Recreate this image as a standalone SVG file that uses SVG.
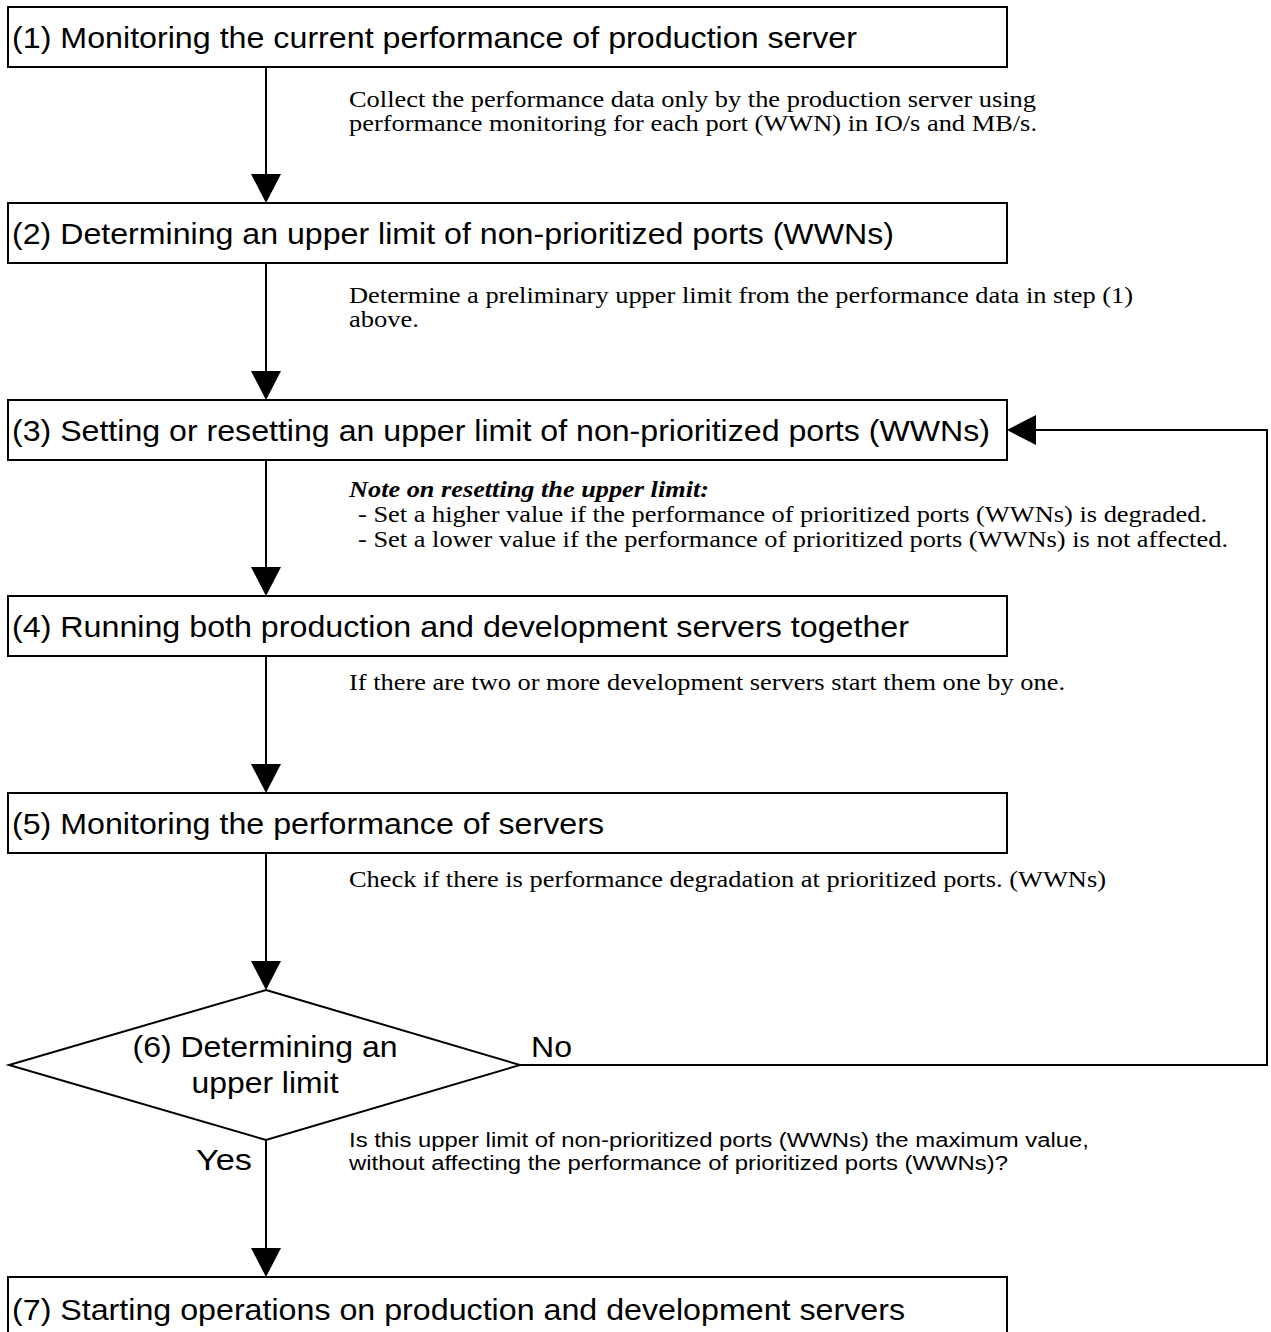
<svg xmlns="http://www.w3.org/2000/svg" width="1271" height="1332" viewBox="0 0 1271 1332">
  <defs>
    <marker id="arrow" viewBox="0 0 29 30" markerWidth="29" markerHeight="30" refX="19" refY="15" orient="auto" markerUnits="userSpaceOnUse">
      <path d="M0,0 L29,15 L0,30 Z" fill="#000"/>
    </marker>
    <style>
      .box { fill: #fff; stroke: #000; stroke-width: 2; }
      .step { font-family: "Liberation Sans", Arial, sans-serif; font-size: 29px; fill: #000; }
      .desc { font-family: "Liberation Serif", "Times New Roman", serif; font-size: 23px; fill: #000; }
      .note { font-family: "Liberation Serif", "Times New Roman", serif; font-size: 23px; font-weight: bold; font-style: italic; fill: #000; }
      .ask { font-family: "Liberation Sans", Arial, sans-serif; font-size: 20px; fill: #000; }
      .link { fill: none; stroke: #000; stroke-width: 2; }
    </style>
  </defs>

  <rect width="1271" height="1332" fill="#fff"/>

  <!-- connectors -->
  <g id="connectors">
    <path class="link" d="M266,67 V193" marker-end="url(#arrow)"/>
    <path class="link" d="M266,263 V390" marker-end="url(#arrow)"/>
    <path class="link" d="M266,460 V586" marker-end="url(#arrow)"/>
    <path class="link" d="M266,656 V783" marker-end="url(#arrow)"/>
    <path class="link" d="M266,853 V980" marker-end="url(#arrow)"/>
    <path class="link" d="M266,1140 V1267" marker-end="url(#arrow)"/>
    <path class="link" d="M520,1065 H1267 V430 H1017" marker-end="url(#arrow)"/>
  </g>

  <!-- step 1 -->
  <g id="step1">
    <rect class="box" x="8" y="7" width="999" height="60"/>
    <text class="step" x="12" y="48" textLength="845" lengthAdjust="spacingAndGlyphs">(1) Monitoring the current performance of production server</text>
    <text class="desc" x="349" y="107" textLength="687" lengthAdjust="spacingAndGlyphs">Collect the performance data only by the production server using</text>
    <text class="desc" x="349" y="131" textLength="688" lengthAdjust="spacingAndGlyphs">performance monitoring for each port (WWN) in IO/s and MB/s.</text>
  </g>

  <!-- step 2 -->
  <g id="step2">
    <rect class="box" x="8" y="203" width="999" height="60"/>
    <text class="step" x="12" y="244" textLength="882" lengthAdjust="spacingAndGlyphs">(2) Determining an upper limit of non-prioritized ports (WWNs)</text>
    <text class="desc" x="349" y="303" textLength="784" lengthAdjust="spacingAndGlyphs">Determine a preliminary upper limit from the performance data in step (1)</text>
    <text class="desc" x="349" y="327" textLength="70" lengthAdjust="spacingAndGlyphs">above.</text>
  </g>

  <!-- step 3 -->
  <g id="step3">
    <rect class="box" x="8" y="400" width="999" height="60"/>
    <text class="step" x="12" y="441" textLength="978" lengthAdjust="spacingAndGlyphs">(3) Setting or resetting an upper limit of non-prioritized ports (WWNs)</text>
    <text class="note" x="349" y="497" textLength="360" lengthAdjust="spacingAndGlyphs">Note on resetting the upper limit:</text>
    <text class="desc" x="358" y="522" textLength="849" lengthAdjust="spacingAndGlyphs">- Set a higher value if the performance of prioritized ports (WWNs) is degraded.</text>
    <text class="desc" x="358" y="547" textLength="870" lengthAdjust="spacingAndGlyphs">- Set a lower value if the performance of prioritized ports (WWNs) is not affected.</text>
  </g>

  <!-- step 4 -->
  <g id="step4">
    <rect class="box" x="8" y="596" width="999" height="60"/>
    <text class="step" x="12" y="637" textLength="897" lengthAdjust="spacingAndGlyphs">(4) Running both production and development servers together</text>
    <text class="desc" x="349" y="690" textLength="716" lengthAdjust="spacingAndGlyphs">If there are two or more development servers start them one by one.</text>
  </g>

  <!-- step 5 -->
  <g id="step5">
    <rect class="box" x="8" y="793" width="999" height="60"/>
    <text class="step" x="12" y="834" textLength="592" lengthAdjust="spacingAndGlyphs">(5) Monitoring the performance of servers</text>
    <text class="desc" x="349" y="887" textLength="757" lengthAdjust="spacingAndGlyphs">Check if there is performance degradation at prioritized ports. (WWNs)</text>
  </g>

  <!-- step 6: decision -->
  <g id="step6">
    <polygon class="box" points="266,990 520,1065 266,1140 9,1065"/>
    <text class="step" x="265" y="1057" text-anchor="middle" textLength="265" lengthAdjust="spacingAndGlyphs">(6) Determining an</text>
    <text class="step" x="265" y="1093" text-anchor="middle" textLength="147" lengthAdjust="spacingAndGlyphs">upper limit</text>
    <text class="step" x="531" y="1057" textLength="41" lengthAdjust="spacingAndGlyphs">No</text>
    <text class="step" x="196" y="1170" textLength="56" lengthAdjust="spacingAndGlyphs">Yes</text>
    <text class="ask" x="349" y="1147" textLength="740" lengthAdjust="spacingAndGlyphs">Is this upper limit of non-prioritized ports (WWNs) the maximum value,</text>
    <text class="ask" x="349" y="1170" textLength="659" lengthAdjust="spacingAndGlyphs">without affecting the performance of prioritized ports (WWNs)?</text>
  </g>

  <!-- step 7 -->
  <g id="step7">
    <rect class="box" x="8" y="1277" width="999" height="70"/>
    <text class="step" x="12" y="1320" textLength="893" lengthAdjust="spacingAndGlyphs">(7) Starting operations on production and development servers</text>
  </g>
</svg>
